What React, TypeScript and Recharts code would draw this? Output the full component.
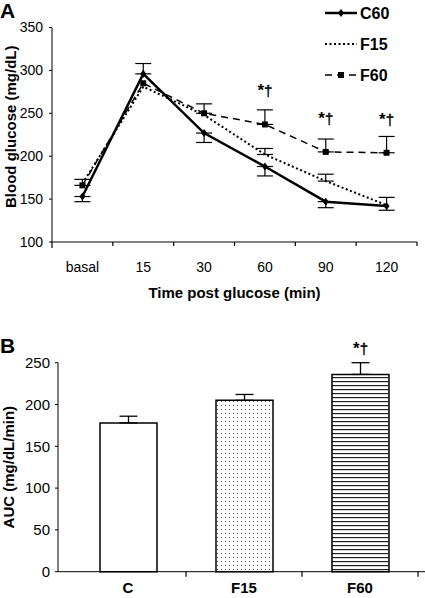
import React from 'react';
import { LineChart, Line, BarChart, Bar, Cell, XAxis, YAxis, ErrorBar, LabelList } from 'recharts';

// panel A: blood glucose over time
const timePoints = ['basal', '15', '30', '60', '90', '120'];
const c60 = [153, 296, 227, 188, 147, 142];
const c60Err = [[6, 0], [0, 12], [11, 0], [11, 0], [7, 0], [5, 10]];
const f15 = [168, 281, 248, 202, 171, 143];
const f15Err = [null, null, null, [0, 7], [0, 8], null];
const f60 = [166, 285, 250, 237, 205, 204];
const f60Err = [[0, 7], null, [0, 11], [0, 17], [0, 15], [0, 19]];
const f60Notes = ['', '', '', '*†', '*†', '*†'];
const glucoseTicks = [100, 150, 200, 250, 300, 350];

// panel B: area under curve
const groups = ['C', 'F15', 'F60'];
const auc = [178, 205, 236];
const aucErr = [8, 7, 14];
const aucNotes = ['', '', '*†'];
const aucTicks = [0, 50, 100, 150, 200, 250];

const FONT = '"Liberation Sans", Arial, Helvetica, sans-serif';

const rowsA = timePoints.map((t, i) => ({
  time: t,
  c60: c60[i],
  c60Err: c60Err[i],
  f15: f15[i],
  f15Err: f15Err[i],
  f60: f60[i],
  f60Err: f60Err[i],
  note: f60Notes[i],
}));

const rowsB = groups.map((g, i) => ({
  group: g,
  auc: auc[i],
  aucErr: [0, aucErr[i]],
  note: aucNotes[i],
}));

const barFills = ['#fff', 'url(#dotFill)', 'url(#lineFill)'];

const Diamond = (p: any) => {
  const { cx, cy, index } = p;
  if (cx == null || cy == null) return <g key={`d-${index}`} />;
  return <path key={`d-${index}`} d={`M${cx},${cy - 4}L${cx + 3},${cy}L${cx},${cy + 4}L${cx - 3},${cy}Z`} fill="#000" />;
};

const Square = (p: any) => {
  const { cx, cy, index } = p;
  if (cx == null || cy == null) return <g key={`s-${index}`} />;
  return <rect key={`s-${index}`} x={cx - 3} y={cy - 3} width={6} height={6} fill="#000" />;
};

const Mark = ({ x, y }: { x: number; y: number }) => (
  <text x={x} y={y} textAnchor="middle" fill="#000" fontFamily={FONT}>
    <tspan fontSize={17} fontWeight="bold" fill="#000">*</tspan>
    <tspan fontSize={15} fill="#000" stroke="#000" strokeWidth={0.4}>†</tspan>
  </text>
);

const Note = (p: any) => {
  const { x, y, value } = p;
  if (!value) return null;
  return <Mark x={x} y={y - 28} />;
};

const BarNote = (p: any) => {
  const { x, y, width, value } = p;
  if (!value) return null;
  return <Mark x={x + width / 2} y={y - 20} />;
};

const TimeTick = (p: any) => {
  const { x, y, payload, index } = p;
  const half = payload.offset || 30;
  return (
    <g>
      <text x={x} y={y + 24} textAnchor="middle" fontSize={14} fill="#000" fontFamily={FONT}>
        {payload.value}
      </text>
      <line x1={x + half} x2={x + half} y1={y - 6} y2={y - 2} stroke="#000" strokeWidth={1.2} />
      {index === 0 && <line x1={x - half} x2={x - half} y1={y - 6} y2={y} stroke="#000" strokeWidth={1.2} />}
    </g>
  );
};

const GroupTick = (p: any) => {
  const { x, y, payload } = p;
  const half = payload.offset || 58;
  return (
    <g>
      <text x={x} y={y + 14} textAnchor="middle" fontSize={15} fontWeight="bold" fill="#000" fontFamily={FONT}>
        {payload.value}
      </text>
      <line x1={x + half} x2={x + half} y1={y - 7} y2={y - 2} stroke="#000" strokeWidth={1.2} />
    </g>
  );
};

const series = [
  { key: 'C60', width: 2.5, dash: undefined, marker: 'diamond' },
  { key: 'F15', width: 2, dash: '2 2.5', marker: 'none' },
  { key: 'F60', width: 1.5, dash: '7 5', marker: 'square' },
];

const LegendBox = () => (
  <svg width={105} height={90} style={{ position: 'absolute', left: 320, top: 0 }}>
    {series.map((s, i) => {
      const cy = 13 + i * 31;
      return (
        <g key={s.key}>
          <line x1={5} x2={37} y1={cy} y2={cy} stroke="#000" strokeWidth={s.width} strokeDasharray={s.dash} />
          {s.marker === 'diamond' && <path d={`M21,${cy - 4}L24,${cy}L21,${cy + 4}L18,${cy}Z`} fill="#000" />}
          {s.marker === 'square' && <rect x={18} y={cy - 3} width={6} height={6} fill="#000" />}
          <text x={40} y={cy + 6} fontSize={16} fontWeight="bold" fontFamily={FONT} fill="#000">
            {s.key}
          </text>
        </g>
      );
    })}
  </svg>
);

export default function App() {
  return (
    <div style={{ position: 'absolute', left: 0, top: 0, width: 425, height: 598, background: '#fff', fontFamily: FONT }}>
      <svg width={0} height={0} style={{ position: 'absolute' }}>
        <defs>
          <pattern id="dotFill" width={4} height={4} patternUnits="userSpaceOnUse">
            <rect width={4} height={4} fill="#fff" />
            <rect x={1} y={1} width={1} height={1} fill="#555" />
          </pattern>
          <pattern id="lineFill" width={4} height={4} patternUnits="userSpaceOnUse">
            <rect width={4} height={4} fill="#fff" />
            <rect x={0} y={1} width={4} height={1.2} fill="#222" />
          </pattern>
        </defs>
      </svg>

      <svg width={30} height={26} style={{ position: 'absolute', left: 0, top: 0 }}>
        <text x={0} y={18} fontSize={21} fontWeight="bold" fontFamily={FONT} fill="#000">A</text>
      </svg>
      <LegendBox />

      <div style={{ position: 'absolute', left: 0, top: 0 }}>
        <LineChart width={425} height={310} data={rowsA} margin={{ top: 27.5, right: 8, bottom: 8, left: 12 }} style={{ fontFamily: FONT }}>
          <XAxis
            dataKey="time"
            scale="band"
            height={60}
            stroke="#000"
            tickSize={4}
            tickMargin={2}
            tickLine={false}
            tick={<TimeTick />}
            interval={0}
            label={{ value: 'Time post glucose (min)', position: 'insideBottom', offset: 4, fontSize: 15, fontWeight: 'bold', fill: '#000' }}
          />
          <YAxis
            domain={[100, 350]}
            ticks={glucoseTicks}
            width={40}
            stroke="#000"
            tickSize={3}
            tickMargin={6}
            tick={{ fontSize: 14, fill: '#000' }}
            allowDataOverflow
            label={{
              content: (lp: any) => {
                const vb = lp.viewBox || { y: 27, height: 215 };
                const cy = vb.y + vb.height / 2 - 8;
                return (
                  <text x={10} y={cy} transform={`rotate(-90 10 ${cy})`} textAnchor="middle" dominantBaseline="central" fontSize={15} fontWeight="bold" fill="#000">
                    Blood glucose (mg/dL)
                  </text>
                );
              },
            }}
          />
          <Line dataKey="f15" stroke="#000" strokeWidth={2} strokeDasharray="2 2.5" dot={false} isAnimationActive={false}>
            <ErrorBar dataKey="f15Err" width={8} stroke="#000" strokeWidth={1.2} direction="y" />
          </Line>
          <Line dataKey="f60" stroke="#000" strokeWidth={1.5} strokeDasharray="7 5" dot={Square} isAnimationActive={false}>
            <ErrorBar dataKey="f60Err" width={8} stroke="#000" strokeWidth={1.2} direction="y" />
            <LabelList dataKey="note" content={Note} />
          </Line>
          <Line dataKey="c60" stroke="#000" strokeWidth={2.5} dot={Diamond} isAnimationActive={false}>
            <ErrorBar dataKey="c60Err" width={8} stroke="#000" strokeWidth={1.2} direction="y" />
          </Line>
        </LineChart>
      </div>

      <svg width={30} height={26} style={{ position: 'absolute', left: 0, top: 334 }}>
        <text x={0} y={19} fontSize={21} fontWeight="bold" fontFamily={FONT} fill="#000">B</text>
      </svg>

      <div style={{ position: 'absolute', left: 0, top: 320 }}>
        <BarChart width={425} height={278} data={rowsB} margin={{ top: 42.7, right: 0, bottom: 0, left: 18 }} barSize={57} style={{ fontFamily: FONT }}>
          <XAxis
            dataKey="group"
            height={26.3}
            stroke="#000"
            tickSize={5}
            tickMargin={2}
            tickLine={false}
            tick={<GroupTick />}
            padding={{ left: 12, right: 7 }}
          />
          <YAxis
            domain={[0, 250]}
            ticks={aucTicks}
            width={40}
            stroke="#000"
            tickSize={3}
            tickMargin={5}
            tick={{ fontSize: 15, fill: '#000' }}
            label={{
              content: (lp: any) => {
                const vb = lp.viewBox || { y: 43, height: 209 };
                const cy = vb.y + vb.height / 2;
                return (
                  <text x={9} y={cy} transform={`rotate(-90 9 ${cy})`} textAnchor="middle" dominantBaseline="central" fontSize={15} fontWeight="bold" fill="#000">
                    AUC (mg/dL/min)
                  </text>
                );
              },
            }}
          />
          <Bar dataKey="auc" stroke="#000" strokeWidth={1.5} isAnimationActive={false}>
            {rowsB.map((r, i) => (
              <Cell key={r.group} fill={barFills[i]} />
            ))}
            <ErrorBar dataKey="aucErr" width={9} stroke="#000" strokeWidth={1.3} direction="y" />
            <LabelList dataKey="note" content={BarNote} />
          </Bar>
        </BarChart>
      </div>
    </div>
  );
}
